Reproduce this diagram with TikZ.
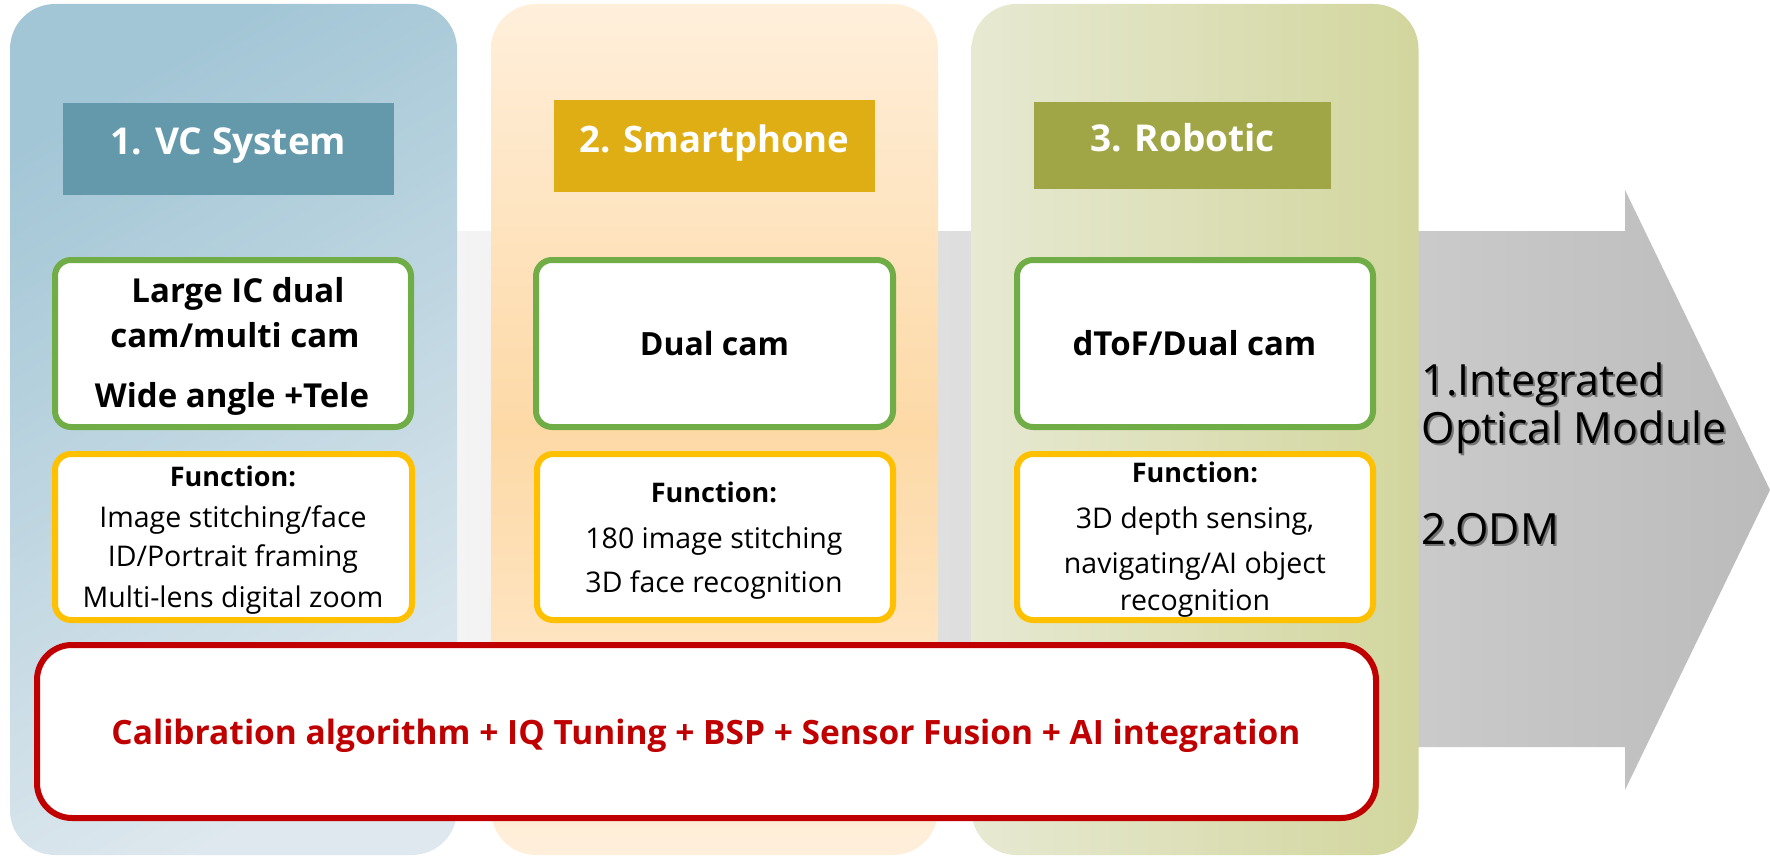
\documentclass[tikz,border=0pt]{standalone}
\usepackage{fontspec}
\setmainfont{Open Sans}
\definecolor{hOne}{HTML}{6499AC}
\definecolor{hTwo}{HTML}{DFAE15}
\definecolor{hThree}{HTML}{A0A645}
\definecolor{gGreen}{HTML}{70AD47}
\definecolor{yYellow}{HTML}{FFC000}
\definecolor{rRed}{HTML}{C00000}
\definecolor{arrowGray}{HTML}{BBBBBB}
\definecolor{pOneA}{HTML}{A3C6D6}
\definecolor{pOneB}{HTML}{DEE8EE}
\definecolor{pTwoA}{HTML}{FFEFDB}
\definecolor{pTwoB}{HTML}{FDD9A6}
\definecolor{pThreeA}{HTML}{E7E9D2}
\definecolor{pThreeB}{HTML}{D2D69D}
\newcommand{\fsz}[1]{\fontsize{#1}{#1}\selectfont}
\begin{document}
\begin{tikzpicture}[x=1pt,y=-1pt,
  panel/.style={inner sep=0pt, rounded corners=45pt, minimum width=447pt, minimum height=851pt},
  header/.style={inner sep=0pt, minimum height=92pt},
  htext/.style={anchor=base, text=white, font=\fsz{37}\bfseries},
  gbox/.style={draw=gGreen, line width=6pt, fill=white, rounded corners=16pt, minimum width=356pt, minimum height=167pt, inner sep=0pt},
  ybox/.style={draw=yYellow, line width=6pt, fill=white, rounded corners=16pt, minimum width=357pt, minimum height=166pt, inner sep=0pt},
  gtext/.style={anchor=base, font=\fsz{33}\bfseries},
  ftitle/.style={anchor=base, font=\fsz{27}\bfseries},
  ftext/.style={anchor=base, font=\fsz{28.5}},
  rtext/.style={anchor=base west, font=\fsz{43}},
]
\useasboundingbox (0,0) rectangle (1770,856);
% background arrow
\shade[left color=white, right color=arrowGray]
  (200,231) -- (1625,231) -- (1625,190) -- (1770,490) -- (1625,790) -- (1625,747) -- (200,747) -- cycle;
% panels
\node[panel, shading=axis, top color=pOneA, bottom color=pOneB, shading angle=30] (p1) at (233.5,429.5) {};
\node[panel, top color=pTwoA, bottom color=pTwoA, middle color=pTwoB] (p2) at (714.5,429.5) {};
\node[panel, left color=pThreeA, right color=pThreeB] (p3) at (1195,429.5) {};
% headers
\node[header, fill=hOne, minimum width=331pt] (h1) at (228.5,149) {};
\node[header, fill=hTwo, minimum width=321pt] (h2) at (714.5,146) {};
\node[header, fill=hThree, minimum width=297pt, minimum height=87pt] (h3) at (1182.5,145.5) {};
\node[htext] (h1t) at (228.5,155) {1. VC System};
\node[htext, font=\fsz{36.5}\bfseries] (h2t) at (714.5,153) {2. Smartphone};
\node[htext] (h3t) at (1182.5,152) {3. Robotic};
% green boxes
\node[gbox] (g1) at (233,343.5) {};
\node[gbox, minimum width=357pt] (g2) at (714.5,343.5) {};
\node[gbox] (g3) at (1195,343.5) {};
\node[gtext] (g1a) at (238,302) {Large IC dual};
\node[gtext] (g1b) at (235,347) {cam/multi cam};
\node[gtext] (g1c) at (232,407) {Wide angle +Tele};
\node[gtext, font=\fsz{32}\bfseries] (g2a) at (714.5,355) {Dual cam};
\node[gtext] (g3a) at (1194.5,355) {dToF/Dual cam};
% yellow boxes
\node[ybox] (y1) at (233.5,537) {};
\node[ybox, minimum width=356pt] (y2) at (715,537) {};
\node[ybox, minimum width=356pt] (y3) at (1195,537) {};
\node[ftitle] (y1a) at (233,486) {Function:};
\node[ftext] (y1b) at (233,527) {Image stitching/face};
\node[ftext] (y1c) at (233,566) {ID/Portrait framing};
\node[ftext] (y1d) at (233,607) {Multi-lens digital zoom};
\node[ftitle] (y2a) at (714,502) {Function:};
\node[ftext] (y2b) at (714,548) {180 image stitching};
\node[ftext] (y2c) at (714,592) {3D face recognition};
\node[ftitle] (y3a) at (1195,482) {Function:};
\node[ftext] (y3b) at (1195,528) {3D depth sensing,};
\node[ftext] (y3c) at (1195,573) {navigating/AI object};
\node[ftext] (y3d) at (1195,610) {recognition};
% red box
\node[draw=rRed, line width=6pt, fill=white, rounded corners=35pt, minimum width=1339pt, minimum height=173pt, inner sep=0pt] (red) at (706.5,731.5) {};
\node[anchor=base, text=rRed, font=\fsz{33.5}\bfseries] (redt) at (706,744) {Calibration algorithm + IQ Tuning + BSP + Sensor Fusion + AI integration};
% right text with shadow
\node[rtext, text=black!55] (r1s) at (1420,397) {1.Integrated};
\node[rtext, text=black!55] (r2s) at (1420,445) {Optical Module};
\node[rtext, text=black!55] (r3s) at (1420,546) {2.ODM};
\node[rtext] (r1) at (1418,395) {1.Integrated};
\node[rtext] (r2) at (1418,443) {Optical Module};
\node[rtext] (r3) at (1418,544) {2.ODM};
\end{tikzpicture}
\end{document}
